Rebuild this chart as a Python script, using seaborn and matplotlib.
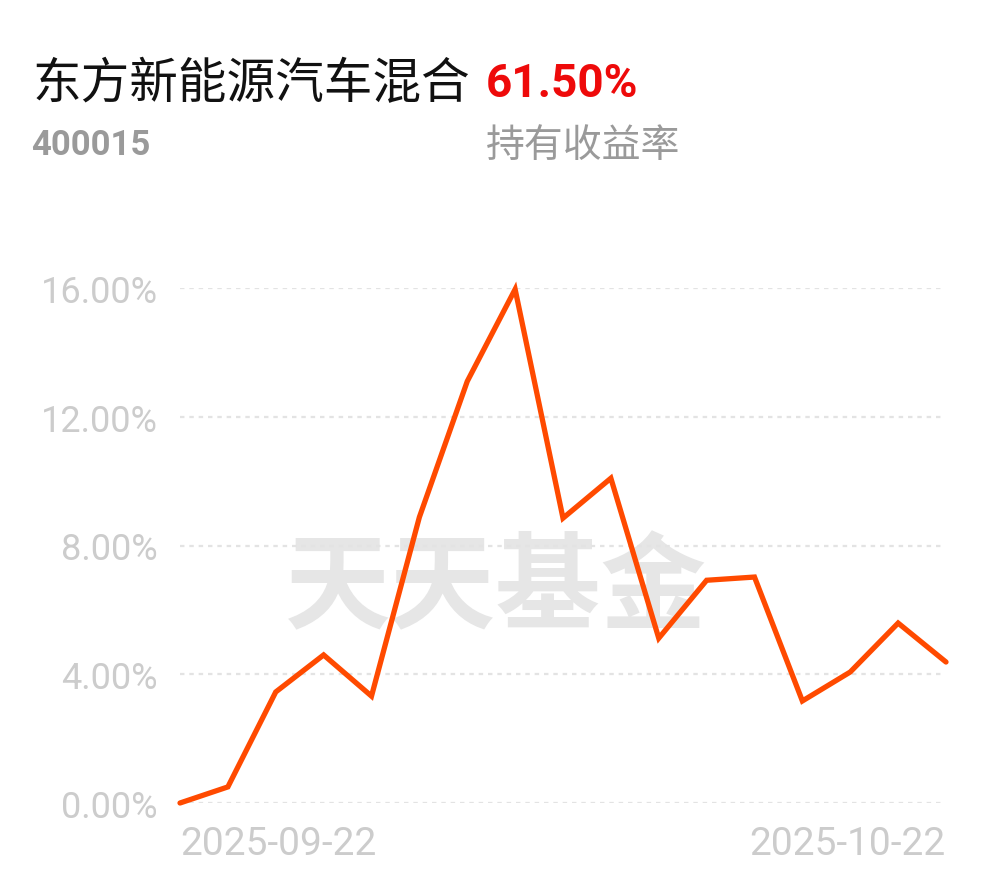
import matplotlib

matplotlib.use("Agg")
import matplotlib.pyplot as plt
import pandas as pd
import seaborn as sns

# Data
dates = [
    "2025-09-22", "2025-09-23", "2025-09-24", "2025-09-25", "2025-09-26",
    "2025-09-29", "2025-09-30", "2025-10-09", "2025-10-10", "2025-10-13",
    "2025-10-14", "2025-10-15", "2025-10-16", "2025-10-17", "2025-10-20",
    "2025-10-21", "2025-10-22",
]
returns = [
    0.00, 0.50, 3.45, 4.60, 3.32, 8.88, 13.10, 15.96, 8.85, 10.09,
    5.12, 6.92, 7.02, 3.17, 4.07, 5.59, 4.38,
]
y_ticks = [0, 4, 8, 12, 16]
fund_name = "东方新能源汽车混合"
fund_code = "400015"
hold_return = "61.50%"
hold_label = "持有收益率"
watermark = "天天基金"

df = pd.DataFrame({"idx": range(len(dates)), "date": dates, "ret": returns})

sns.set_theme(style="white")
plt.rcParams["font.family"] = ["Roboto", "Noto Sans CJK SC", "DejaVu Sans"]
cjk = ["Noto Sans CJK SC", "DejaVu Sans"]

fig = plt.figure(figsize=(9.9, 8.78), dpi=100)
ax = fig.add_axes([180 / 990, 74 / 878, 766 / 990, 515 / 878])

# watermark behind the line
ax.text(0.501, 0.328, watermark, family=cjk, fontsize=76, fontweight="bold",
        color="#e6e6e6", ha="center", va="center", zorder=0,
        transform=fig.transFigure)

for t in y_ticks:
    ax.axhline(t, color="#e3e3e3", linestyle=(0, (2, 2.2)), linewidth=1.6,
               xmin=0, xmax=0.997, zorder=1)

sns.lineplot(data=df, x="idx", y="ret", ax=ax, color="#ff4a00", linewidth=3.8,
             zorder=3, clip_on=False)
ax.lines[-1].set_solid_joinstyle("miter")

ax.set_xlim(0, len(dates) - 1)
ax.set_ylim(0, 16)
ax.patch.set_alpha(0)
sns.despine(ax=ax, left=True, bottom=True)

ax.set_yticks(y_ticks)
ax.set_yticklabels([f"{t:.2f}%" for t in y_ticks], color="#cccccc", fontsize=26)
ax.tick_params(axis="y", length=0, pad=16)

ax.set_xticks([0, len(dates) - 1])
labels = ax.set_xticklabels([dates[0], dates[-1]], color="#cccccc", fontsize=28)
labels[0].set_ha("left")
labels[1].set_ha("right")
ax.tick_params(axis="x", length=0, pad=16)
ax.set_xlabel("")
ax.set_ylabel("")

# header
fig.text(33 / 990, 1 - 84 / 878, fund_name, family=cjk, fontsize=35,
         color="#111111", ha="left", va="center")
fig.text(486 / 990, 1 - 84 / 878, hold_return, fontsize=33, fontweight="bold",
         color="#ee0a0a", ha="left", va="center")
fig.text(31 / 990, 1 - 146 / 878, fund_code, fontsize=25, fontweight="bold",
         color="#9a9a9a", ha="left", va="center")
fig.text(486 / 990, 1 - 146 / 878, hold_label, family=cjk, fontsize=28,
         color="#9a9a9a", ha="left", va="center")

fig.savefig("out.png", dpi=100, facecolor="white")
